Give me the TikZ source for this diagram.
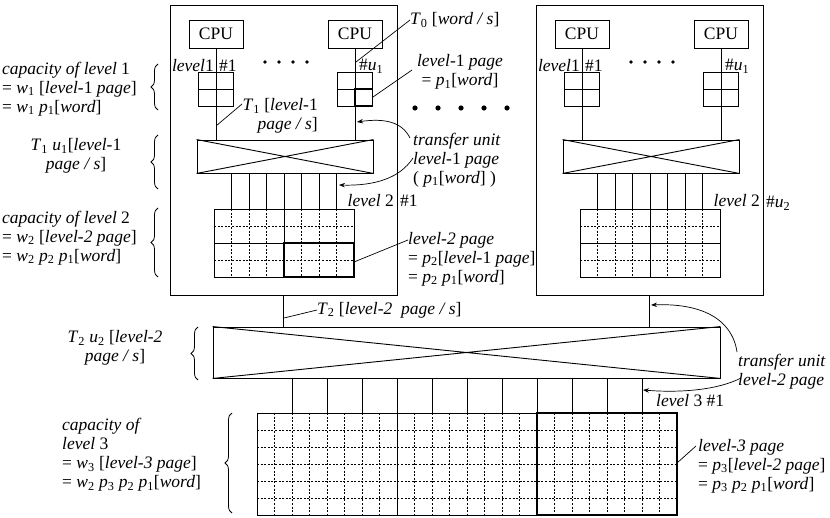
\documentclass[tikz,border=0pt]{standalone}
\usepackage{fontspec}
\setmainfont{Liberation Serif}
\usetikzlibrary{arrows.meta, decorations.pathreplacing, positioning, calc}
\newcommand{\vs}[2]{\textit{#1}\textsubscript{#2}}
\tikzset{cpu/.style={draw,line width=0.9pt,minimum width=54pt,minimum height=28pt,inner sep=0pt,
        font=\fontsize{17.5}{19}\selectfont},
    xbar/.style={draw,line width=0.9pt,inner sep=0pt},
    wire/.style={line width=0.9pt},
    dotline/.style={line width=0.8pt,dash pattern=on 2pt off 1.6pt},
    bold/.style={line width=1.8pt},
    note/.style={inner sep=0pt,font=\fontsize{17.5}{19}\selectfont},
    lead/.style={line width=0.7pt},
    pointer/.style={line width=0.7pt,-{Stealth[length=6pt,width=4.5pt]}},
    capbrace/.style={decorate,decoration={brace,amplitude=7pt},line width=0.8pt}}

\begin{document}
\begin{tikzpicture}[x=1pt,y=-1pt]
    \useasboundingbox (0,0) rectangle (830,518);

    % Two level-2 modules, each with its CPUs and level-1 memories
    \foreach \s/\n in {0/L,366/R}{
        \node[draw,line width=0.9pt,minimum width=227pt,minimum height=290pt,inner sep=0pt]
            (box\n) at (283.5+\s,150) {};
        \node[cpu] (cpuA\n) at (216+\s,34) {CPU};
        \node[cpu] (cpuB\n) at (355+\s,34) {CPU};
        \node[xbar,minimum width=176pt,minimum height=33pt] (xb\n) at (285+\s,156.5) {};
        \draw[wire] (xb\n.north west) -- (xb\n.south east) (xb\n.south west) -- (xb\n.north east);
        \draw[wire] (cpuA\n.south) -- (cpuA\n.south |- xb\n.north);
        \draw[wire] (cpuB\n.south) -- (cpuB\n.south |- xb\n.north);
        % level-1 memories
        \foreach \c in {216,355}{
            \draw[wire] (\c+\s-17.5,72) rectangle (\c+\s+17.5,106);
            \draw[wire] (\c+\s-17.5,89) -- (\c+\s+17.5,89);
        }
        \node[note,anchor=east] (lvA\n) at (214+\s,66) {\textit{level}1};
        \node[note,anchor=west] (noA\n) at (219+\s,66) {\#1};
        \node[note,anchor=west] (noB\n) at (359+\s,66) {\#\vs{u}{1}};
        \foreach \d in {0,...,3} \fill (265+\s+14*\d,62) circle (1.9pt);
        % level-2 memory
        \foreach \k in {1,2,3,5,6,7} \draw[dotline] (214+\s+17.5*\k,209) -- ++(0,68);
        \draw[dotline] (214+\s,226) -- ++(140,0) (214+\s,260) -- ++(140,0);
        \draw[wire] (214+\s,209) rectangle ++(140,68);
        \draw[wire] (284+\s,209) -- ++(0,68) (214+\s,243) -- ++(140,0);
        \foreach \k in {1,...,7} \draw[wire] (214+\s+17.5*\k,209) -- ++(0,-36);
        \node[note,anchor=east] (lvB\n) at (394+\s,201) {\textit{level} 2};
    }
    \node[note,anchor=west] (noCL) at (400,201) {\#1};
    \node[note,anchor=west] (noCR) at (766,203) {\#\vs{u}{2}};

    % highlighted pages
    \draw[bold] (355,89) rectangle (372.5,106);
    \draw[bold] (284,243) rectangle (354,277);

    % level-2 interconnect
    \node[xbar,minimum width=507pt,minimum height=51pt] (xbig) at (466.5,352.5) {};
    \draw[wire] (xbig.north west) -- (xbig.south east) (xbig.south west) -- (xbig.north east);
    \draw[wire] (boxL.south) -- (boxL.south |- xbig.north);
    \draw[wire] (boxR.south) -- (boxR.south |- xbig.north);

    % level-3 memory
    \foreach \k in {1,...,23} \draw[dotline] (257+17.5*\k,413) -- ++(0,102);
    \foreach \k in {1,...,5} \draw[dotline] (257,413+17*\k) -- ++(420,0);
    \draw[wire] (257,413) rectangle (677,515);
    \draw[wire] (397,413) -- (397,515);
    \draw[bold] (537,413) rectangle (677,515);
    \foreach \k in {1,...,11} \draw[wire] (257+35*\k,413) -- (257+35*\k,378);

    % capacities and rates on the left
    \node[note,anchor=west,align=left] (cap1) at (2,89)
        {\textit{capacity of level} 1\\= \vs{w}{1} [\textit{level}-1 \textit{page}]\\= \vs{w}{1} \vs{p}{1}[\textit{word}]};
    \draw[capbrace] (158,110) -- (158,64);
    \node[note,align=center] (rate1) at (76,156)
        {\vs{T}{1} \vs{u}{1}[\textit{level}-1\\\textit{page / s}]};
    \draw[capbrace] (158,189) -- (158,135);
    \node[note,anchor=west,align=left] (cap2) at (2,238)
        {\textit{capacity of level} 2\\= \vs{w}{2} [\textit{level-2 page}]\\= \vs{w}{2} \vs{p}{2} \vs{p}{1}[\textit{word}]};
    \draw[capbrace] (158,277) -- (158,208);
    \node[note,align=center] (rate2) at (115,348)
        {\vs{T}{2} \vs{u}{2} [\textit{level-2}\\\textit{page / s}]};
    \draw[capbrace] (198,380) -- (198,327);
    \node[note,anchor=west,align=left] (cap3) at (62,455)
        {\textit{capacity of}\\\textit{level} 3\\= \vs{w}{3} [\textit{level-3 page}]\\= \vs{w}{2} \vs{p}{3} \vs{p}{2} \vs{p}{1}[\textit{word}]};
    \draw[capbrace] (232,513) -- (232,413);

    % notes on the right
    \node[note,anchor=west] (t0) at (410,20) {\vs{T}{0} [\textit{word / s}]};
    \coordinate (t0end) at (356,62);
    \draw[lead] (t0end) -- (t0.west);
    \node[note,anchor=east,align=right] (t1) at (318,116) {\vs{T}{1} [\textit{level}-1\\\textit{page / s}]};
    \coordinate (t1end) at (216,126);
    \coordinate (t1start) at (242,104);
    \draw[lead] (t1end) -- (t1start);
    \node[note,align=center] (lp1) at (460,72) {\textit{level}-1 \textit{page}\\= \vs{p}{1}[\textit{word}]};
    \coordinate (lp1end) at (373,97);
    \coordinate (lp1start) at (412,70);
    \draw[lead] (lp1end) -- (lp1start);
    \foreach \d in {0,...,4} \fill (415+23*\d,108) circle (2.6pt);
    \node[note,anchor=west,align=left] (tu1) at (413,160)
        {\textit{transfer unit}\\\textit{level}-1 \textit{page}\\( \vs{p}{1}[\textit{word}] )};
    \coordinate (tu1a) at (410,138);
    \coordinate (tu1b) at (413,158);
    \coordinate (hitA) at (357,122);
    \coordinate (hitB) at (339,185);
    \draw[pointer] (tu1a) .. controls (402,122) and (385,118) .. (hitA);
    \draw[pointer] (tu1b) .. controls (400,178) and (375,186) .. (hitB);
    \node[note,anchor=west,align=left] (lp2) at (408,259)
        {\textit{level-2 page}\\= \vs{p}{2}[\textit{level}-1 \textit{page}]\\= \vs{p}{2} \vs{p}{1}[\textit{word}]};
    \coordinate (lp2end) at (354,262);
    \coordinate (lp2start) at (408,240);
    \draw[lead] (lp2end) -- (lp2start);
    \node[note,anchor=west] (t2) at (317,310) {\vs{T}{2} [\textit{level-2}\ \ \textit{page / s}]};
    \coordinate (t2end) at (284,318);
    \draw[lead] (t2end) -- (t2.west);
    \node[note,anchor=west,align=left] (tu2) at (738,372) {\textit{transfer unit}\\\textit{level-2 page}};
    \coordinate (tu2a) at (737,352);
    \coordinate (tu2b) at (741,378);
    \coordinate (hitC) at (651,305);
    \coordinate (hitD) at (643,390);
    \draw[pointer] (tu2a) .. controls (732,318) and (700,303) .. (hitC);
    \draw[pointer] (tu2b) .. controls (718,390) and (680,393) .. (hitD);
    \node[note,anchor=west] (lv3) at (656,401) {\textit{level} 3 \#1};
    \node[note,anchor=west,align=left] (lp3) at (698,466)
        {\textit{level-3 page}\\= \vs{p}{3}[\textit{level-2 page}]\\= \vs{p}{3} \vs{p}{2} \vs{p}{1}[\textit{word}]};
    \coordinate (lp3end) at (677,463);
    \coordinate (lp3start) at (696,446);
    \draw[lead] (lp3end) -- (lp3start);
\end{tikzpicture}
\end{document}
